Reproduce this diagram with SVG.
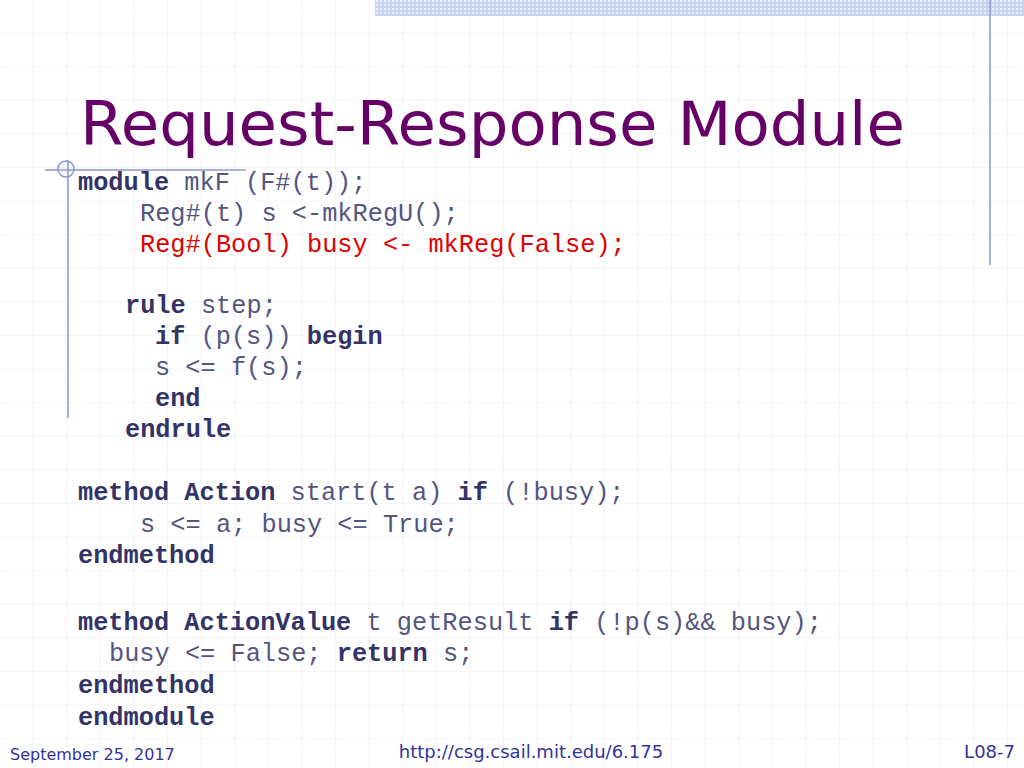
<svg xmlns="http://www.w3.org/2000/svg" width="1024" height="768" viewBox="0 0 1024 768">
<defs>
<pattern id="grid" width="33.6" height="33.6" patternUnits="userSpaceOnUse" x="0" y="0">
<path d="M33.6 0V33.6M0 33.6H33.6" fill="none" stroke="#dde3ee" stroke-width="1.2" stroke-dasharray="2 1"/>
</pattern>
<pattern id="dots" width="4" height="4" patternUnits="userSpaceOnUse">
<rect width="4" height="4" fill="#c8d4ee"/><rect width="2" height="2" fill="#e4eaf7"/>
</pattern>
<style>
.c{font-family:"Liberation Mono","Courier New",monospace;font-size:25.3px;fill:#555580;white-space:pre}
.k{font-weight:bold;fill:#333366}
.r{fill:#e00000}
.f{font-family:"DejaVu Sans",Verdana,sans-serif;fill:#333399}
</style>
</defs>
<rect width="1024" height="768" fill="#fff"/>
<rect width="1024" height="768" fill="url(#grid)"/>
<rect x="375" y="0" width="649" height="16" fill="url(#dots)"/>
<line x1="990" y1="0" x2="990" y2="265" stroke="#8899cc" stroke-width="1.5"/>
<line x1="68" y1="160" x2="68" y2="418" stroke="#8899cc" stroke-width="1.5"/>
<line x1="45" y1="170" x2="246" y2="170" stroke="#8899cc" stroke-width="1.5"/>
<circle cx="66" cy="169" r="8" fill="none" stroke="#8899cc" stroke-width="1.5"/>
<text x="80" y="145" font-family="DejaVu Sans,Verdana,sans-serif" font-size="60" fill="#660066" textLength="825" lengthAdjust="spacingAndGlyphs">Request-Response Module</text>
<g id="code">
<text class="c" x="78" y="190"><tspan class="k">module</tspan> mkF (F#(t));</text>
<text class="c" x="140" y="221">Reg#(t) s &lt;-mkRegU();</text>
<text class="c r" x="140" y="252">Reg#(Bool) busy &lt;- mkReg(False);</text>
<text class="c" x="125" y="313"><tspan class="k">rule</tspan> step;</text>
<text class="c" x="155" y="344"><tspan class="k">if</tspan> (p(s)) <tspan class="k">begin</tspan></text>
<text class="c" x="155" y="375">s &lt;= f(s);</text>
<text class="c k" x="155" y="406">end</text>
<text class="c k" x="125" y="437">endrule</text>
<text class="c" x="78" y="500"><tspan class="k">method Action</tspan> start(t a) <tspan class="k">if</tspan> (!busy);</text>
<text class="c" x="140" y="532">s &lt;= a; busy &lt;= True;</text>
<text class="c k" x="78" y="563">endmethod</text>
<text class="c" x="78" y="630"><tspan class="k">method ActionValue</tspan> t getResult <tspan class="k">if</tspan> (!p(s)&amp;&amp; busy);</text>
<text class="c" x="109" y="661">busy &lt;= False; <tspan class="k">return</tspan> s;</text>
<text class="c k" x="78" y="693">endmethod</text>
<text class="c k" x="78" y="725">endmodule</text>
</g>
<text class="f" x="10" y="760" font-size="16">September 25, 2017</text>
<text class="f" x="531" y="758" font-size="18" text-anchor="middle">http://csg.csail.mit.edu/6.175</text>
<text class="f" x="1015" y="758" font-size="18" text-anchor="end">L08-7</text>
</svg>
